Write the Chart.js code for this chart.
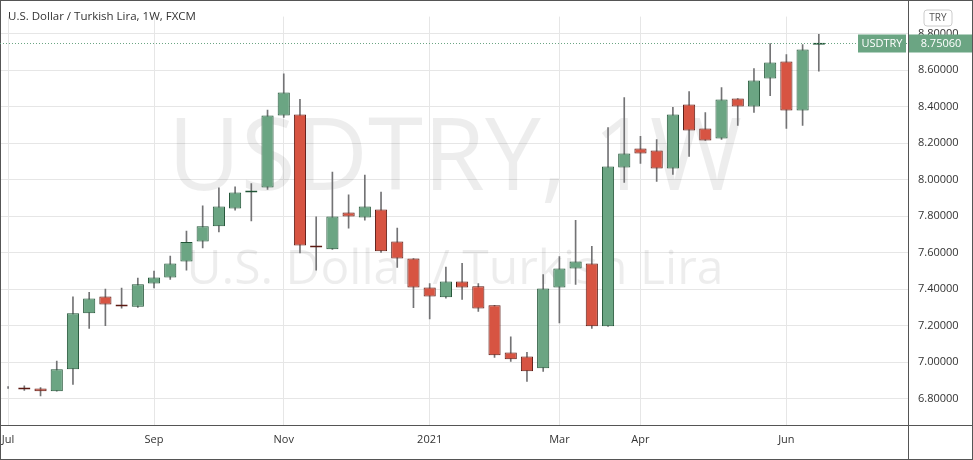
<!DOCTYPE html>
<html>
<head>
<meta charset="utf-8">
<script src="https://cdn.jsdelivr.net/npm/chart.js@4/dist/chart.umd.min.js"></script>
<style>body{margin:0;background:#fff}canvas{display:block}</style>
</head>
<body>
<canvas id="chartCanvas" width="973" height="460"></canvas>
<script>
// weekly candles, Jul 2020 .. Jun 2021
var weeks=['Jul','','','','','','','','','Sep','','','','','','','','Nov','','','','','','','','','2021','','','','','','','','Mar','','','','','Apr','','','','','','','','','Jun','','','','','','','']
var opens=[6.86,6.86,6.855,6.84,6.96,7.267,7.36,7.315,7.303,7.431,7.464,7.552,7.661,7.744,7.842,7.93,7.957,8.352,8.357,7.639,7.618,7.82,7.793,7.837,7.661,7.568,7.409,7.355,7.442,7.415,7.311,7.053,7.031,6.966,7.409,7.513,7.541,7.196,8.067,8.171,8.16,8.061,8.412,8.281,8.226,8.445,8.401,8.555,8.648,8.379,8.74]
var highs=[6.865,6.87,6.86,7.005,7.358,7.382,7.4,7.405,7.46,7.499,7.581,7.718,7.856,7.955,7.961,7.979,8.381,8.58,8.441,7.796,8.041,7.917,8.025,7.932,7.734,7.568,7.431,7.521,7.542,7.431,7.311,7.139,7.053,7.48,7.579,7.777,7.634,8.286,8.45,8.237,8.22,8.396,8.483,8.368,8.505,8.445,8.609,8.746,8.686,8.741,8.797]
var lows=[6.855,6.845,6.815,6.84,6.878,7.185,7.2,7.295,7.3,7.407,7.453,7.504,7.626,7.714,7.833,7.774,7.946,8.341,7.599,7.504,7.618,7.734,7.778,7.601,7.519,7.298,7.237,7.35,7.344,7.278,7.026,7.004,6.894,6.949,7.214,7.426,7.185,7.196,7.985,8.089,7.99,8.029,8.127,8.215,8.22,8.297,8.368,8.461,8.281,8.297,8.595]
var closes=[6.86,6.85,6.84,6.96,7.267,7.349,7.316,7.305,7.426,7.464,7.541,7.658,7.744,7.853,7.93,7.941,8.352,8.478,7.639,7.628,7.798,7.798,7.853,7.607,7.568,7.409,7.36,7.442,7.409,7.294,7.037,7.015,6.949,7.404,7.513,7.552,7.196,8.072,8.144,8.144,8.061,8.357,8.27,8.215,8.439,8.401,8.544,8.642,8.379,8.713,8.751]
var yTicks=[6.8,7.0,7.2,7.4,7.6,7.8,8.0,8.2,8.4,8.6,8.8]
var lastPrice=8.7506

var upFill='#6ba583',upLine='#225437',downFill='#d75442',downLine='#5b1a13'

function isUp(i){return closes[i]>=opens[i]}
var bodies=opens.map(function(o,i){return [o,closes[i]]})
var wicks=lows.map(function(l,i){return [l,highs[i]]})

var decor={
	id:'decor',
	beforeDatasetsDraw:function(chart){
		var c=chart.ctx
		c.save()
		c.fillStyle='rgba(0,0,0,0.07)'
		c.textAlign='center'
		c.textBaseline='middle'
		c.font='100px "Open Sans", sans-serif'
		c.fillText('USDTRY, 1W',455,162)
		c.font='48px "Open Sans", sans-serif'
		c.fillText('U.S. Dollar / Turkish Lira',455,270)
		c.restore()
	},
	afterDraw:function(chart){
		var c=chart.ctx,a=chart.chartArea,y=chart.scales.y
		c.save()
		c.strokeStyle='#555'
		c.lineWidth=1
		c.strokeRect(0.5,0.5,972,425)
		c.beginPath();c.moveTo(a.right+0.5,0);c.lineTo(a.right+0.5,459);c.stroke()
		c.strokeRect(0.5,0.5,972,459)
		c.fillStyle='#333'
		c.font='11.5px "Open Sans", sans-serif'
		c.textBaseline='middle'
		c.fillText('U.S. Dollar / Turkish Lira, 1W, FXCM',8,17)
		var py=Math.round(y.getPixelForValue(lastPrice))+0.5
		c.strokeStyle='#6ba583'
		c.setLineDash([1,2])
		c.beginPath();c.moveTo(0,py);c.lineTo(a.right,py);c.stroke()
		c.setLineDash([])
		c.fillStyle='#6ba583'
		c.fillRect(858,py-9,48,18)
		c.fillRect(a.right+1,py-9,63,18)
		c.fillStyle='#fff'
		c.font='11px "Open Sans", sans-serif'
		c.textAlign='center'
		c.fillText('USDTRY',882,py)
		c.fillText('8.75060',a.right+33,py)
		c.strokeStyle='#ccc'
		c.fillStyle='#fff'
		c.beginPath();c.roundRect(924,10,28,16,3);c.fill();c.stroke()
		c.fillStyle='#555'
		c.font='10px "Open Sans", sans-serif'
		c.fillText('TRY',938,18)
		c.restore()
	}
}

var ctx=document.getElementById('chartCanvas').getContext('2d')
new Chart(ctx,{
	type:'bar',
	data:{
		labels:weeks,
		datasets:[
		{
			data:wicks,
			backgroundColor:'#737375',
			barThickness:1,
			grouped:false,
			order:2
		},
		{
			data:bodies,
			backgroundColor:opens.map(function(o,i){return isUp(i)?upFill:downFill}),
			borderColor:opens.map(function(o,i){return isUp(i)?upLine:downLine}),
			borderWidth:1,
			borderSkipped:false,
			barPercentage:0.75,
			categoryPercentage:1,
			grouped:false,
			order:1
		}
		]
	},
	options:{
		responsive:false,
		animation:false,
		layout:{padding:{top:5,left:0}},
		plugins:{legend:{display:false},tooltip:{enabled:false}},
		scales:{
			x:{
				grid:{offset:false,drawTicks:false,color:function(c){return c.tick&&c.tick.label?'#e6e6e6':'transparent'}},
				border:{display:false},
				ticks:{autoSkip:false,maxRotation:0,color:'#333',font:{size:11,family:'"Open Sans", sans-serif'},padding:8},
				afterFit:function(s){s.height=35;s.paddingLeft=0;s.paddingRight=0}
			},
			y:{
				position:'right',
				min:6.655,max:8.894,
				afterBuildTicks:function(s){s.ticks=yTicks.map(function(v){return {value:v}})},
				grid:{color:'#e6e6e6',drawTicks:false},
				border:{display:false},
				ticks:{color:'#333',font:{size:11,family:'"Open Sans", sans-serif'},padding:10,callback:function(v){return v.toFixed(5)}},
				afterFit:function(s){s.width=65}
			}
		}
	},
	plugins:[decor]
})
</script>
</body>
</html>
